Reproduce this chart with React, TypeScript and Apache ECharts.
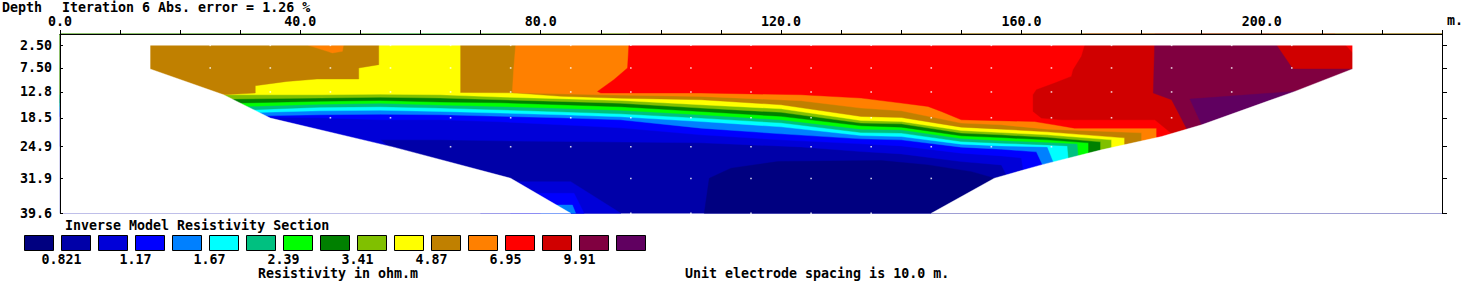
import React, { useEffect, useRef } from 'react';
import * as echarts from 'echarts';

// ---------- data ----------
const depthTicks = [2.5, 7.5, 12.8, 18.5, 24.9, 31.9, 39.6];
const distanceLabels = [0, 40, 80, 120, 160, 200];
const legendLabels = ['0.821', '1.17', '1.67', '2.39', '3.41', '4.87', '6.95', '9.91'];
const classColors = [
  '#000080', '#0000A8', '#0000D8', '#0000FF', '#0080FF', '#00FFFF', '#00C080', '#00FF00',
  '#008000', '#80C000', '#FFFF00', '#C08000', '#FF8000', '#FF0000', '#D00000', '#800040', '#600060',
];

// section outline (distance m, depth m)
const sectionLeft = [[15, 7.73], [27.22, 13.42], [35, 18.57], [55.5, 24.99], [75, 31.86], [85, 39.6]];
const sectionRight = [[215.12, 7.73], [205.5, 12.69], [190, 20.06], [183.33, 22.65], [173.33, 25.59], [163.33, 28.91], [155.5, 31.86], [145, 39.6]];

// contour lines between resistivity classes (distance m, depth m), left to right
const c2 = [[54.6, 24.86], [53.33, 23.38], [63.33, 23.38], [73.33, 23.6], [90, 23.82], [106.67, 24.04], [123.33, 24.93], [133.33, 25.97], [140, 26.48], [150, 28.18], [156.67, 28.91], [157.5, 31.1]];
const c3 = [[34.45, 18.35], [43.33, 18.51], [53.33, 18.95], [63.33, 18.95], [73.33, 19.39], [83.33, 20.06], [93.33, 20.72], [106.67, 22.27], [120, 23.38], [133.33, 24.26], [140, 24.71], [150, 26.32], [156.67, 26.92], [160, 27.36], [160.33, 30.15]];
const c4 = [[33.83, 18.07], [43.33, 17.84], [53.33, 17.73], [63.33, 17.84], [73.33, 18.18], [83.33, 18.51], [93.33, 18.95], [106.67, 20.79], [120, 22.05], [133.33, 23.16], [140, 23.38], [150, 24.99], [156.67, 25.44], [162.5, 26.03], [163.5, 28.85]];
const c5 = [[32.78, 17.33], [43.33, 16.96], [53.33, 16.85], [63.33, 17.11], [73.33, 17.47], [83.33, 17.84], [93.33, 18.29], [106.67, 19.33], [120, 20.5], [133.33, 22.43], [140, 22.65], [150, 24.33], [156.67, 24.71], [164.33, 24.93], [165.33, 28.25]];
const c6 = [[31.67, 16.74], [43.33, 16.18], [53.33, 16.07], [63.33, 16.36], [73.33, 16.74], [83.33, 17.18], [93.33, 17.62], [106.67, 18.57], [120, 19.61], [133.33, 21.76], [140, 21.89], [150, 23.75], [156.67, 24.11], [164.33, 24.49], [167.67, 24.71], [167.83, 27.43]];
const c7 = [[30.5, 16.01], [43.33, 15.52], [53.33, 15.3], [63.33, 15.7], [73.33, 16.01], [83.33, 16.4], [93.33, 16.85], [106.67, 17.84], [120, 18.95], [133.33, 21.01], [140, 21.16], [150, 23.09], [156.67, 23.53], [164.33, 23.93], [169.33, 24.26], [169.5, 26.88]];
const c8 = [[29.45, 15.25], [43.33, 14.86], [53.33, 14.68], [63.33, 15.03], [73.33, 15.19], [83.33, 15.63], [93.33, 16.07], [106.67, 17.11], [120, 18.18], [133.33, 20.28], [140, 20.57], [150, 22.49], [156.67, 22.87], [164.33, 23.38], [171.17, 24.04], [171.17, 26.32]];
const c9 = [[28.33, 14.37], [43.33, 14.15], [53.33, 13.97], [63.33, 14.15], [73.33, 14.52], [83.33, 14.9], [93.33, 15.3], [106.67, 16.36], [120, 17.29], [133.33, 19.68], [140, 19.84], [150, 21.89], [156.67, 22.27], [164.33, 22.82], [173.17, 23.82], [173.17, 25.66]];
const c10 = [[27.22, 13.42], [43.33, 13.42], [53.33, 13.31], [63.33, 13.42], [73.33, 13.93], [83.33, 14.3], [93.33, 14.68], [106.67, 15.63], [120, 16.52], [133.33, 19.11], [140, 19.33], [150, 21.32], [156.67, 21.76], [164.33, 22.27], [175, 23.38], [175, 25.1]];
const c11 = [[66.67, 12.91], [75.5, 13.0], [83.33, 13.75], [93.33, 14.19], [106.67, 14.52], [120, 15.63], [133.33, 18.22], [140, 18.44], [150, 20.57], [156.67, 21.01], [164.33, 21.61], [177.17, 22.94], [177.17, 24.46]];
const c12 = [[75.5, 13.0], [90, 13.42], [106.67, 13.79], [123.33, 14.74], [133.33, 16.36], [140, 16.96], [150, 19.68], [156.67, 20.06], [164.33, 21.01], [180, 21.83], [180, 23.62]];
const c13 = [[94.67, 2.5], [94.45, 7.5], [92.17, 10.1], [89.45, 12.69], [90, 13.04], [106.67, 13.04], [123.33, 13.42], [133.33, 14.15], [140, 15.25], [144.45, 16.0], [146.67, 17.11], [150, 18.95], [162.17, 19.33], [165.5, 20.06], [168.83, 20.79], [182.5, 20.79], [182.5, 22.89]];

// closed anomalies (distance m, depth m)
const navyZone = [[107.22, 39.6], [108.05, 31.86], [111.67, 29.64], [119.45, 28.18], [136.67, 27.96], [144.45, 28.91], [151.67, 30.4], [155.5, 31.86], [230, 31.86], [230, 39.6]];
const mediumBlueFoot = [[70, 32.61], [85, 32.61], [93.33, 39.6], [70, 39.6]];
const blueFoot = [[75, 35.18], [85.55, 35.18], [87.22, 39.6], [75, 39.6]];
const azureFoot = [[80, 37.77], [85.28, 37.77], [85.83, 39.6], [80, 39.6]];
const brownWest = [[0, 0], [53.05, 0], [53.05, 6.77], [49.72, 7.5], [49.72, 9.94], [42.78, 9.94], [37.78, 10.47], [32.5, 11.42], [32.5, 13.04], [27.22, 13.42], [0, 13.42]];
const orangeSpot = [[41.33, 2.5], [44.5, 3.83], [45.33, 4.18], [47, 3.83], [47.17, 2.5]];
const orangeWestEdge = [[75.28, 12.75], [75.5, 7.9], [75.83, 2.5]];
const darkRedZone = [[170.55, 0], [212.22, 0], [215.12, 4.18], [230, 4.18], [230, 21.98], [185, 21.98], [182.22, 18.95], [166.67, 18.95], [163.33, 18.57], [161.95, 17.11], [161.95, 13.42], [162.5, 12.31], [165.55, 10.83], [168.33, 9.36], [168.62, 7.88], [170, 4.94], [170.55, 2.5]];
const maroonZone = [[182.22, 0], [201.2, 0], [205.17, 7.73], [230, 7.73], [230, 21.01], [187.55, 21.01], [185, 14.52], [181.95, 13.04]];
const purpleZone = [[188.05, 14.37], [205.28, 12.69], [230, 12.69], [230, 20.06], [190, 20.06]];

// model block centres shown as white dots
const dotRows: [number, number[]][] = [
  [2.5, [25, 35, 45, 55, 65, 75, 85, 95, 105, 115, 125, 135, 145, 155, 165, 175, 185, 195, 205]],
  [7.5, [25, 35, 45, 55, 65, 75, 85, 95, 105, 115, 125, 135, 145, 155, 165, 175, 185, 195, 205]],
  [12.8, [35, 45, 55, 65, 75, 85, 95, 105, 115, 125, 135, 145, 155, 165, 175, 185, 195]],
  [18.5, [45, 55, 65, 75, 85, 95, 105, 115, 125, 135, 145, 155, 165, 175, 185]],
  [24.9, [65, 75, 85, 95, 105, 115, 125, 135, 145, 155, 165]],
  [31.9, [95, 105, 115, 125, 135, 145]],
  [39.6, [95, 105, 115, 125, 135]],
];

const X_MAX = 230;
const D_MAX = 39.6;
const FONT = '"DejaVu Sans Mono", monospace';

function above(contour: number[][]): number[][] {
  const first = contour[0];
  const last = contour[contour.length - 1];
  return [[0, first[1]], ...contour, [X_MAX, last[1]], [X_MAX, 0], [0, 0]];
}
function topBounded(startX: number, contour: number[][], tail: number[][] = []): number[][] {
  const last = contour[contour.length - 1];
  return [[startX, 0], [X_MAX, 0], [X_MAX, last[1]], ...contour.slice().reverse(), ...tail];
}

const WHITE = '#FFFFFF';
const layers: { color: string; pts: number[][] }[] = [
  { color: classColors[1], pts: [[0, 0], [X_MAX, 0], [X_MAX, D_MAX], [0, D_MAX]] },
  { color: classColors[0], pts: navyZone },
  { color: classColors[2], pts: above(c2) },
  { color: classColors[2], pts: mediumBlueFoot },
  { color: classColors[3], pts: above(c3) },
  { color: classColors[3], pts: blueFoot },
  { color: classColors[4], pts: above(c4) },
  { color: classColors[4], pts: azureFoot },
  { color: classColors[5], pts: above(c5) },
  { color: classColors[6], pts: above(c6) },
  { color: classColors[7], pts: above(c7) },
  { color: classColors[8], pts: above(c8) },
  { color: classColors[9], pts: above(c9) },
  { color: classColors[10], pts: above(c10) },
  { color: classColors[11], pts: brownWest },
  { color: classColors[11], pts: topBounded(66.67, c11) },
  { color: classColors[12], pts: orangeSpot },
  { color: classColors[12], pts: topBounded(75.83, c12, orangeWestEdge) },
  { color: classColors[13], pts: topBounded(94.67, c13) },
  { color: classColors[14], pts: darkRedZone },
  { color: classColors[15], pts: maroonZone },
  { color: classColors[16], pts: purpleZone },
  // white outside the modelled section
  { color: WHITE, pts: [[0, 0], [X_MAX, 0], [X_MAX, 2.5], [0, 2.5]] },
  { color: WHITE, pts: [[0, 2.4], [15, 2.4], ...sectionLeft, [0, D_MAX]] },
  { color: WHITE, pts: [[215.12, 2.4], [X_MAX, 2.4], [X_MAX, D_MAX], ...sectionRight.slice().reverse()] },
];

const depthFmt = (v: number) => (v < 10 ? v.toFixed(2) : v.toFixed(1));

export default function App() {
  const ref = useRef<HTMLDivElement>(null);
  useEffect(() => {
    document.body.style.margin = '0';
    if (!ref.current) return;
    const chart = echarts.init(ref.current, undefined, { renderer: 'svg' });
    const textStyle = (text: string, align: string = 'left') => ({
      text, fill: '#000', font: `bold 13.3px ${FONT}`, textAlign: align,
      textVerticalAlign: 'middle', verticalAlign: 'middle',
    });
    const graphic: any[] = [
      { type: 'text', x: 2, y: 7, style: textStyle('Depth') },
      { type: 'text', x: 62, y: 7, style: textStyle('Iteration 6 Abs. error = 1.26 %') },
      { type: 'text', x: 1447, y: 20.5, style: textStyle('m.') },
      { type: 'text', x: 65, y: 225.5, style: textStyle('Inverse Model Resistivity Section') },
      { type: 'text', x: 258, y: 273, style: textStyle('Resistivity in ohm.m') },
      { type: 'text', x: 685, y: 273, style: textStyle('Unit electrode spacing is 10.0 m.') },
    ];
    classColors.forEach((c, i) => {
      graphic.push({
        type: 'rect', shape: { x: 24.5 + 37 * i, y: 235.5, width: 29, height: 15 },
        style: { fill: c, stroke: '#000', lineWidth: 1 },
      });
    });
    legendLabels.forEach((t, k) => {
      graphic.push({ type: 'text', x: 61.5 + 74 * k, y: 259.5, style: textStyle(t, 'center') });
    });

    const axisFont = { color: '#000', fontFamily: FONT, fontWeight: 'bold', fontSize: 13.3 };
    const dots: number[][] = [];
    dotRows.forEach(([d, xs]) => xs.forEach((x) => dots.push([x, d])));

    chart.setOption({
      animation: false,
      backgroundColor: '#fff',
      grid: { left: 60, right: 23, top: 34, height: 179.3, containLabel: false, outerBoundsMode: 'none' },
      xAxis: {
        type: 'value', position: 'top', min: 0, max: X_MAX, interval: 10, z: 10,
        axisLine: { show: true, lineStyle: { color: '#000', width: 1 } },
        axisTick: { show: true, length: 4, lineStyle: { color: '#000' } },
        axisLabel: { ...axisFont, customValues: distanceLabels, formatter: (v: number) => v.toFixed(1), margin: 6 },
        splitLine: { show: false },
      },
      yAxis: [
        {
          type: 'value', inverse: true, min: 0, max: D_MAX, position: 'left', z: 10,
          axisLine: { show: true, lineStyle: { color: '#000', width: 1 } },
          axisTick: { show: true, inside: true, length: 3, customValues: depthTicks, lineStyle: { color: '#000' } },
          axisLabel: { ...axisFont, customValues: depthTicks, formatter: depthFmt, margin: 8 },
          splitLine: { show: false },
        },
        {
          type: 'value', inverse: true, min: 0, max: D_MAX, position: 'right', z: 10,
          axisLine: { show: true, lineStyle: { color: '#000', width: 1 } },
          axisTick: { show: true, length: 5, customValues: depthTicks, lineStyle: { color: '#000' } },
          axisLabel: { show: false },
          splitLine: { show: false },
        },
      ],
      graphic,
      series: [
        {
          type: 'custom', coordinateSystem: 'cartesian2d', xAxisIndex: 0, yAxisIndex: 0, silent: true, z: 2,
          data: layers.map((l) => l.pts[0]),
          renderItem: (params: any, api: any) => {
            const layer = layers[params.dataIndex];
            return {
              type: 'polygon', z2: params.dataIndex,
              shape: { points: layer.pts.map((p) => api.coord(p)) },
              style: { fill: layer.color, stroke: layer.color, lineWidth: 0.4 },
            };
          },
        },
        {
          type: 'scatter', xAxisIndex: 0, yAxisIndex: 0, silent: true, z: 5,
          symbol: 'rect', symbolSize: 1.6, itemStyle: { color: '#fff' },
          data: dots,
        },
      ],
    });
    return () => chart.dispose();
  }, []);
  return <div ref={ref} style={{ position: 'absolute', left: 0, top: 0, width: 1465, height: 286 }} />;
}
